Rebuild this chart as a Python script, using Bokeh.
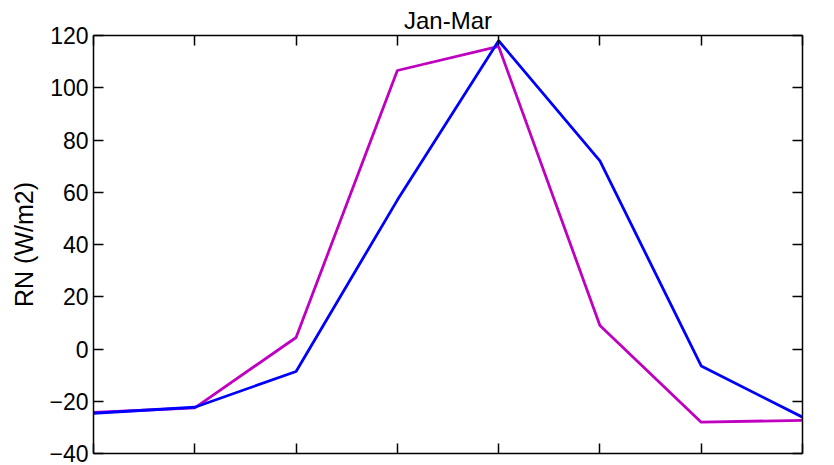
from bokeh.plotting import figure
from bokeh.models import LinearAxis, Range1d, FixedTicker
from bokeh.embed import file_html
from bokeh.resources import INLINE

x = [1, 2, 3, 4, 5, 6, 7, 8]
magenta_vals = [-24.3, -22.5, 4.4, 106.6, 115.8, 9.0, -28.0, -27.3]
blue_vals = [-24.6, -22.3, -8.6, 57.0, 118.0, 72.0, -6.5, -26.1]
y_ticks = [-40, -20, 0, 20, 40, 60, 80, 100, 120]
title_text = "Jan-Mar"
y_label = "RN (W/m2)"

FONT = "Liberation Sans"

p = figure(width=834, height=465, output_backend="svg", toolbar_location=None,
           x_range=Range1d(1, 8), y_range=Range1d(-40, 120),
           min_border_left=93, min_border_right=32, min_border_top=35, min_border_bottom=12)
p.title.text = title_text
p.title.align = "center"
p.title.text_font = FONT
p.title.text_font_size = "24px"
p.title.text_font_style = "normal"
p.title.text_color = "black"
p.title.standoff = 3
p.grid.visible = False
p.outline_line_color = None
p.background_fill_color = "white"
p.border_fill_color = "white"

p.line(x, magenta_vals, line_color="#C000C0", line_width=2.8)
p.line(x, blue_vals, line_color="#0000FF", line_width=2.8)


def blank_axis(ax, ticks):
    ax.ticker = FixedTicker(ticks=ticks)
    ax.major_label_overrides = {t: "" for t in ticks}
    ax.major_label_text_font_size = "1px"
    ax.major_label_standoff = 0
    ax.major_tick_in = 10
    ax.major_tick_out = 0
    ax.minor_tick_line_color = None
    ax.axis_line_width = 1.5
    ax.major_tick_line_width = 1.5


for ax in p.xaxis:
    blank_axis(ax, x)

for ax in p.yaxis:
    ax.ticker = FixedTicker(ticks=y_ticks)
    ax.major_label_text_font = FONT
    ax.major_label_text_font_size = "23px"
    ax.major_label_text_color = "black"
    ax.major_label_standoff = 5
    ax.major_tick_in = 10
    ax.major_tick_out = 0
    ax.minor_tick_line_color = None
    ax.axis_line_width = 1.5
    ax.major_tick_line_width = 1.5
    ax.axis_label = y_label
    ax.axis_label_text_font = FONT
    ax.axis_label_text_font_size = "25px"
    ax.axis_label_text_font_style = "normal"
    ax.axis_label_text_color = "black"
    ax.axis_label_standoff = 8

top = LinearAxis()
blank_axis(top, x)
right = LinearAxis()
blank_axis(right, y_ticks)
p.add_layout(top, "above")
p.add_layout(right, "right")

open("out.html", "w").write(file_html(p, INLINE))
